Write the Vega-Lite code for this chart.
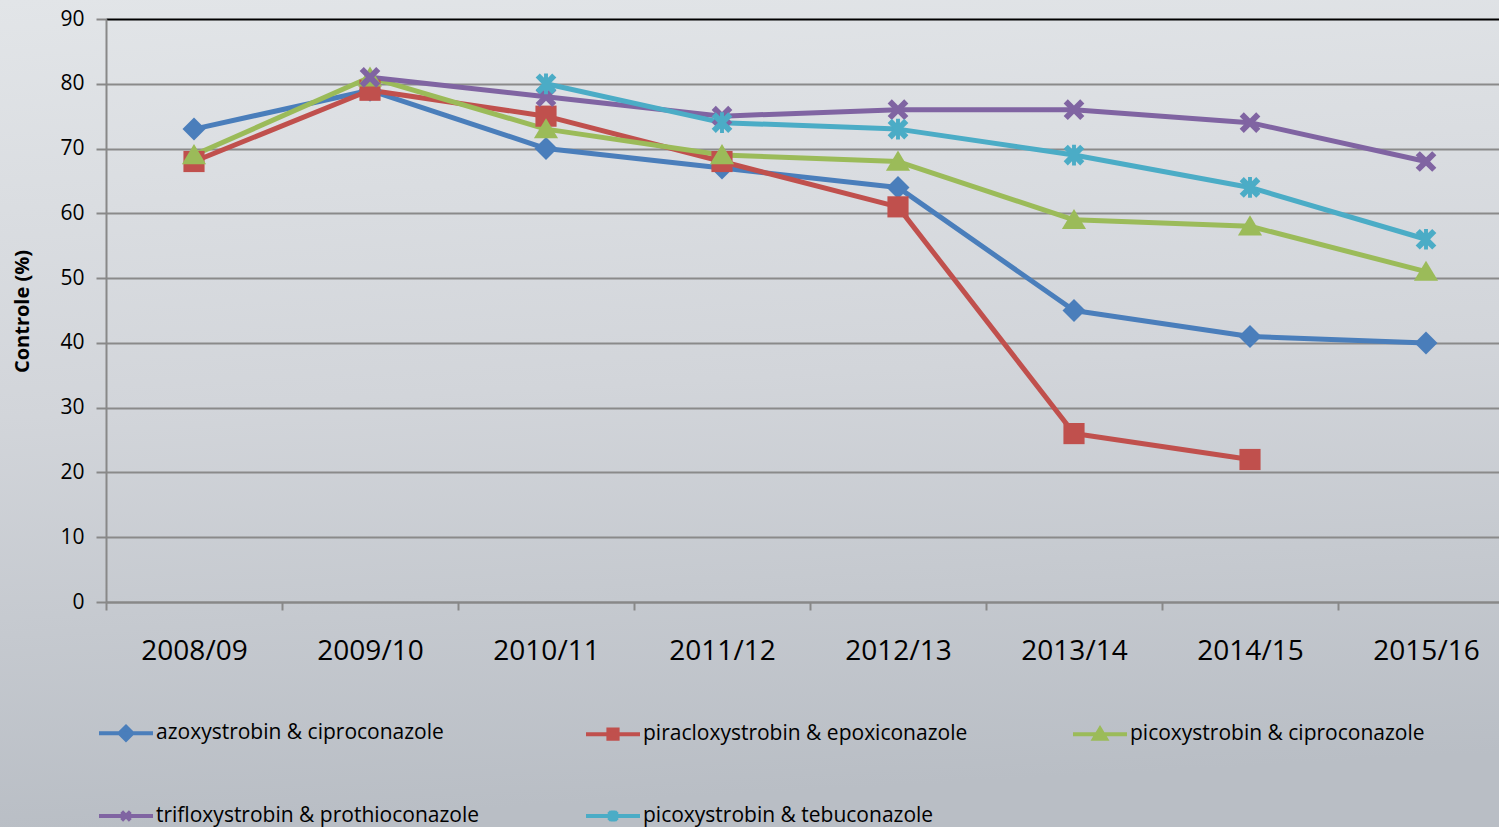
{
  "$schema": "https://vega.github.io/schema/vega-lite/v6.json",
  "width": 1499,
  "height": 827,
  "autosize": "none",
  "padding": 0,
  "background": "#CED2D7",
  "config": {
    "view": {
      "stroke": null,
      "fill": {"gradient": "linear", "x1": 0, "y1": 0, "x2": 0.1, "y2": 1,
        "stops": [{"offset": 0, "color": "#E2E5E8"}, {"offset": 0.5, "color": "#D2D5DA"}, {"offset": 1, "color": "#B9BEC5"}]}
    },
    "font": "Open Sans"
  },
  "data": {
    "values": [
      {"season": "2008/09", "series": "azoxystrobin & ciproconazole", "controle": 73},
      {"season": "2009/10", "series": "azoxystrobin & ciproconazole", "controle": 79},
      {"season": "2010/11", "series": "azoxystrobin & ciproconazole", "controle": 70},
      {"season": "2011/12", "series": "azoxystrobin & ciproconazole", "controle": 67},
      {"season": "2012/13", "series": "azoxystrobin & ciproconazole", "controle": 64},
      {"season": "2013/14", "series": "azoxystrobin & ciproconazole", "controle": 45},
      {"season": "2014/15", "series": "azoxystrobin & ciproconazole", "controle": 41},
      {"season": "2015/16", "series": "azoxystrobin & ciproconazole", "controle": 40},
      {"season": "2008/09", "series": "piracloxystrobin & epoxiconazole", "controle": 68},
      {"season": "2009/10", "series": "piracloxystrobin & epoxiconazole", "controle": 79},
      {"season": "2010/11", "series": "piracloxystrobin & epoxiconazole", "controle": 75},
      {"season": "2011/12", "series": "piracloxystrobin & epoxiconazole", "controle": 68},
      {"season": "2012/13", "series": "piracloxystrobin & epoxiconazole", "controle": 61},
      {"season": "2013/14", "series": "piracloxystrobin & epoxiconazole", "controle": 26},
      {"season": "2014/15", "series": "piracloxystrobin & epoxiconazole", "controle": 22},
      {"season": "2008/09", "series": "picoxystrobin & ciproconazole", "controle": 69},
      {"season": "2009/10", "series": "picoxystrobin & ciproconazole", "controle": 81},
      {"season": "2010/11", "series": "picoxystrobin & ciproconazole", "controle": 73},
      {"season": "2011/12", "series": "picoxystrobin & ciproconazole", "controle": 69},
      {"season": "2012/13", "series": "picoxystrobin & ciproconazole", "controle": 68},
      {"season": "2013/14", "series": "picoxystrobin & ciproconazole", "controle": 59},
      {"season": "2014/15", "series": "picoxystrobin & ciproconazole", "controle": 58},
      {"season": "2015/16", "series": "picoxystrobin & ciproconazole", "controle": 51},
      {"season": "2009/10", "series": "trifloxystrobin & prothioconazole", "controle": 81},
      {"season": "2010/11", "series": "trifloxystrobin & prothioconazole", "controle": 78},
      {"season": "2011/12", "series": "trifloxystrobin & prothioconazole", "controle": 75},
      {"season": "2012/13", "series": "trifloxystrobin & prothioconazole", "controle": 76},
      {"season": "2013/14", "series": "trifloxystrobin & prothioconazole", "controle": 76},
      {"season": "2014/15", "series": "trifloxystrobin & prothioconazole", "controle": 74},
      {"season": "2015/16", "series": "trifloxystrobin & prothioconazole", "controle": 68},
      {"season": "2010/11", "series": "picoxystrobin & tebuconazole", "controle": 80},
      {"season": "2011/12", "series": "picoxystrobin & tebuconazole", "controle": 74},
      {"season": "2012/13", "series": "picoxystrobin & tebuconazole", "controle": 73},
      {"season": "2013/14", "series": "picoxystrobin & tebuconazole", "controle": 69},
      {"season": "2014/15", "series": "picoxystrobin & tebuconazole", "controle": 64},
      {"season": "2015/16", "series": "picoxystrobin & tebuconazole", "controle": 56}
    ]
  },
  "encoding": {
    "x": {
      "field": "season", "type": "nominal", "sort": null,
      "scale": {"type": "band", "paddingInner": 0, "paddingOuter": 0, "range": [106, 1514]},
      "axis": {
        "title": null, "orient": "bottom", "offset": -225, "labelAngle": 0,
        "tickBand": "extent", "tickSize": 8, "tickColor": "#888888", "tickWidth": 2,
        "domainColor": "#888888", "domainWidth": 2,
        "labelFontSize": 28, "labelColor": "#000000", "labelPadding": 27, "labelFont": "Open Sans",
        "grid": false
      }
    },
    "y": {
      "field": "controle", "type": "quantitative",
      "scale": {"domain": [0, 90], "range": [602, 19], "nice": false, "zero": true},
      "axis": {
        "title": "Controle (%)", "orient": "left", "offset": -106,
        "values": [0, 10, 20, 30, 40, 50, 60, 70, 80, 90],
        "tickSize": 10, "tickColor": "#888888", "tickWidth": 2,
        "domainColor": "#888888", "domainWidth": 2,
        "labelFontSize": 21, "labelColor": "#000000", "labelPadding": 12,
        "grid": true, "gridWidth": 2,
        "gridColor": {"condition": {"test": "datum.value === 90", "value": "#000000"}, "value": "#8A8A8A"},
        "titleFontSize": 20, "titleFontWeight": "bold", "titleColor": "#000000",
        "titleX": -84, "titleY": 311, "titleAngle": 270, "titleAlign": "center", "titleBaseline": "middle"
      }
    },
    "color": {
      "field": "series", "type": "nominal",
      "scale": {
        "domain": ["azoxystrobin & ciproconazole", "piracloxystrobin & epoxiconazole", "picoxystrobin & ciproconazole", "trifloxystrobin & prothioconazole", "picoxystrobin & tebuconazole"],
        "range": ["#4A7EBB", "#C0504D", "#9BBB59", "#8064A2", "#4BACC6"]
      },
      "legend": {
        "title": null, "orient": "none", "legendX": 97, "legendY": 704,
        "direction": "horizontal", "columns": 3, "gridAlign": "all",
        "columnPadding": 97, "rowPadding": 39,
        "labelFontSize": 21, "labelColor": "#000000", "labelOffset": 1, "labelLimit": 500,
        "symbolSize": 2916, "symbolStrokeWidth": 4,
        "encode": {
          "symbols": {
            "update": {
              "shape": {"signal": "datum.value === 'azoxystrobin & ciproconazole' ? 'M-1,0H1M-0.24,0L0,-0.24L0.24,0L0,0.24Z' : datum.value === 'piracloxystrobin & epoxiconazole' ? 'M-1,0H1M-0.17,-0.17H0.17V0.17H-0.17Z' : datum.value === 'picoxystrobin & ciproconazole' ? 'M-1,0H1M0,-0.2L0.22,0.17H-0.22Z' : datum.value === 'trifloxystrobin & prothioconazole' ? 'M-1,0H1M-0.16,-0.16L0.16,0.16M-0.16,0.16L0.16,-0.16' : 'M-1,0H1M-0.16,-0.16L0.16,0.16M-0.16,0.16L0.16,-0.16M0,-0.2V0.2'"},
              "fill": {"signal": "scale('color', datum.value)"},
              "stroke": {"signal": "scale('color', datum.value)"},
              "strokeWidth": {"value": 4},
              "opacity": {"value": 1}
            }
          }
        }
      }
    }
  },
  "layer": [
    {
      "mark": {"type": "line", "strokeWidth": 5, "strokeCap": "round", "strokeJoin": "round"}
    },
    {
      "transform": [{"filter": "datum.series === 'azoxystrobin & ciproconazole'"}],
      "mark": {"type": "point", "filled": true, "opacity": 1, "size": 529, "shape": "M-1,0L0,-1L1,0L0,1Z"}
    },
    {
      "transform": [{"filter": "datum.series === 'piracloxystrobin & epoxiconazole'"}],
      "mark": {"type": "point", "filled": true, "opacity": 1, "size": 529, "shape": "M-0.92,-0.92H0.92V0.92H-0.92Z"}
    },
    {
      "transform": [{"filter": "datum.series === 'picoxystrobin & ciproconazole'"}],
      "mark": {"type": "point", "filled": true, "opacity": 1, "size": 529, "shape": "M0,-0.95L1.05,0.8H-1.05Z"}
    },
    {
      "transform": [{"filter": "datum.series === 'trifloxystrobin & prothioconazole'"}],
      "mark": {"type": "point", "filled": true, "opacity": 1, "size": 529, "shape": "M0.54,-0.9L0.9,-0.54L0.36,0L0.9,0.54L0.54,0.9L0,0.36L-0.54,0.9L-0.9,0.54L-0.36,0L-0.9,-0.54L-0.54,-0.9L0,-0.36Z"}
    },
    {
      "transform": [{"filter": "datum.series === 'picoxystrobin & tebuconazole'"}],
      "mark": {"type": "point", "filled": true, "opacity": 1, "size": 529, "shape": "M0.54,-0.9L0.9,-0.54L0.36,0L0.9,0.54L0.54,0.9L0,0.36L-0.54,0.9L-0.9,0.54L-0.36,0L-0.9,-0.54L-0.54,-0.9L0,-0.36ZM-0.17,-0.9L0.17,-0.9L0.17,0.9L-0.17,0.9Z"}
    }
  ]
}
